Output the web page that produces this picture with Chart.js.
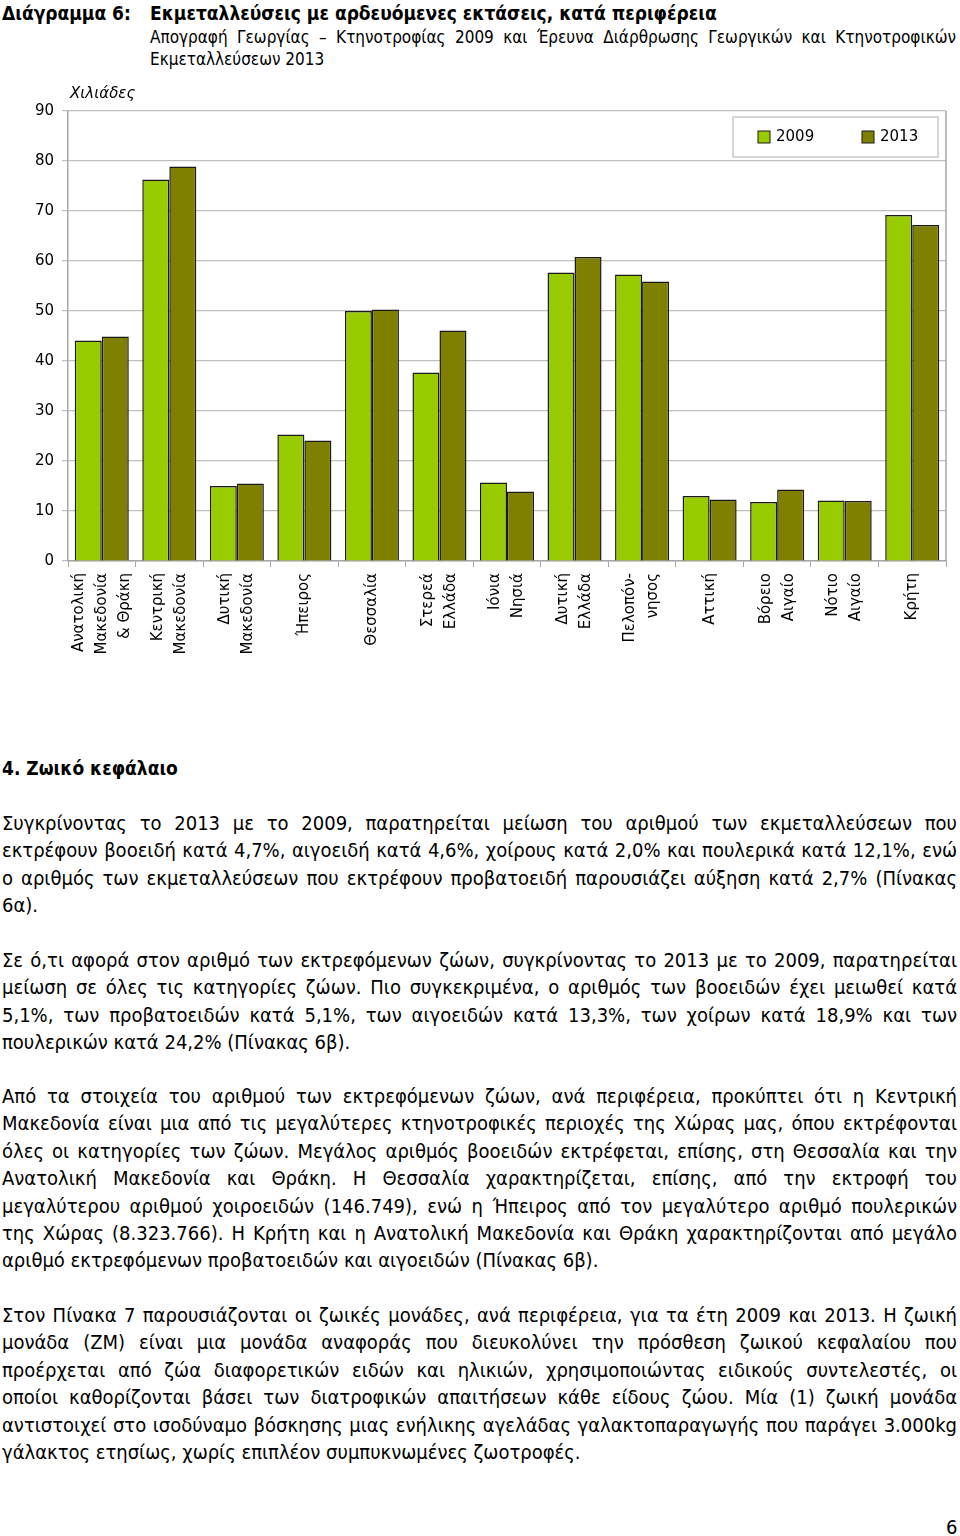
<!DOCTYPE html>
<html lang="el">
<head>
<meta charset="utf-8">
<script src="https://cdn.jsdelivr.net/npm/chart.js@4"></script>
<style>
  html, body { margin: 0; padding: 0; background: #fff; }
  body { width: 960px; height: 1536px; position: relative; overflow: hidden;
         font-family: 'Liberation Sans Narrow', 'DejaVu Sans Condensed', sans-serif; color: #000; }
  .abs { position: absolute; }
  .ln { display: block; white-space: nowrap; text-align: justify; text-align-last: justify; }
  .ln.last { text-align-last: left; }
  #head1 { left: 2px; top: 0; font-size: 19px; font-weight: bold; line-height: 26px; }
  #head2 { left: 150px; top: 0; font-size: 19px; font-weight: bold; line-height: 26px; }
  #sub { left: 150px; top: 26px; width: 806px; font-size: 17px; line-height: 22px; }
  #sec { left: 2px; top: 755px; font-size: 19px; font-weight: bold; line-height: 27.4px; }
  .par { left: 2px; width: 955px; font-size: 20px; line-height: 27.4px; }
  #pg { left: 946px; top: 1514px; font-size: 20px; line-height: 26px; }
  #chartBox { position: absolute; left: 0; top: 70px; width: 960px; height: 630px; }
</style>
</head>
<body>
<div class="abs" id="head1">Διάγραμμα 6:</div>
<div class="abs" id="head2">Εκμεταλλεύσεις με αρδευόμενες εκτάσεις, κατά περιφέρεια</div>
<div class="abs" id="sub">
  <span class="ln">Απογραφή Γεωργίας – Κτηνοτροφίας 2009 και Έρευνα Διάρθρωσης Γεωργικών και Κτηνοτροφικών</span>
  <span class="ln last">Εκμεταλλεύσεων 2013</span>
</div>

<div id="chartBox"><canvas id="irrigated"></canvas></div>

<div class="abs" id="sec">4. Ζωικό κεφάλαιο</div>

<div class="abs par" style="top:810px">
  <span class="ln">Συγκρίνοντας το 2013 με το 2009, παρατηρείται μείωση του αριθμού των εκμεταλλεύσεων που</span>
  <span class="ln">εκτρέφουν βοοειδή κατά 4,7%, αιγοειδή κατά 4,6%, χοίρους κατά 2,0% και πουλερικά κατά 12,1%, ενώ</span>
  <span class="ln">ο αριθμός των εκμεταλλεύσεων που εκτρέφουν προβατοειδή παρουσιάζει αύξηση κατά 2,7% (Πίνακας</span>
  <span class="ln last">6α).</span>
</div>

<div class="abs par" style="top:947px">
  <span class="ln">Σε ό,τι αφορά στον αριθμό των εκτρεφόμενων ζώων, συγκρίνοντας το 2013 με το 2009, παρατηρείται</span>
  <span class="ln">μείωση σε όλες τις κατηγορίες ζώων. Πιο συγκεκριμένα, ο αριθμός των βοοειδών έχει μειωθεί κατά</span>
  <span class="ln">5,1%, των προβατοειδών κατά 5,1%, των αιγοειδών κατά 13,3%, των χοίρων κατά 18,9% και των</span>
  <span class="ln last">πουλερικών κατά 24,2% (Πίνακας 6β).</span>
</div>

<div class="abs par" style="top:1083px">
  <span class="ln">Από τα στοιχεία του αριθμού των εκτρεφόμενων ζώων, ανά περιφέρεια, προκύπτει ότι η Κεντρική</span>
  <span class="ln">Μακεδονία είναι μια από τις μεγαλύτερες κτηνοτροφικές περιοχές της Χώρας μας, όπου εκτρέφονται</span>
  <span class="ln">όλες οι κατηγορίες των ζώων. Μεγάλος αριθμός βοοειδών εκτρέφεται, επίσης, στη Θεσσαλία και την</span>
  <span class="ln">Ανατολική Μακεδονία και Θράκη. Η Θεσσαλία χαρακτηρίζεται, επίσης, από την εκτροφή του</span>
  <span class="ln">μεγαλύτερου αριθμού χοιροειδών (146.749), ενώ η Ήπειρος από τον μεγαλύτερο αριθμό πουλερικών</span>
  <span class="ln">της Χώρας (8.323.766). Η Κρήτη και η Ανατολική Μακεδονία και Θράκη χαρακτηρίζονται από μεγάλο</span>
  <span class="ln last">αριθμό εκτρεφόμενων προβατοειδών και αιγοειδών (Πίνακας 6β).</span>
</div>

<div class="abs par" style="top:1302px">
  <span class="ln">Στον Πίνακα 7 παρουσιάζονται οι ζωικές μονάδες, ανά περιφέρεια, για τα έτη 2009 και 2013. Η ζωική</span>
  <span class="ln">μονάδα (ΖΜ) είναι μια μονάδα αναφοράς που διευκολύνει την πρόσθεση ζωικού κεφαλαίου που</span>
  <span class="ln">προέρχεται από ζώα διαφορετικών ειδών και ηλικιών, χρησιμοποιώντας ειδικούς συντελεστές, οι</span>
  <span class="ln">οποίοι καθορίζονται βάσει των διατροφικών απαιτήσεων κάθε είδους ζώου. Μία (1) ζωική μονάδα</span>
  <span class="ln">αντιστοιχεί στο ισοδύναμο βόσκησης μιας ενήλικης αγελάδας γαλακτοπαραγωγής που παράγει 3.000kg</span>
  <span class="ln last">γάλακτος ετησίως, χωρίς επιπλέον συμπυκνωμένες ζωοτροφές.</span>
</div>

<div class="abs" id="pg">6</div>

<script>
// regions (category labels, one entry per line of the rotated label)
var regions = [
    ['Ανατολική', 'Μακεδονία', '& Θράκη'],
    ['Κεντρική', 'Μακεδονία'],
    ['Δυτική', 'Μακεδονία'],
    ['Ήπειρος'],
    ['Θεσσαλία'],
    ['Στερεά', 'Ελλάδα'],
    ['Ιόνια', 'Νησιά'],
    ['Δυτική', 'Ελλάδα'],
    ['Πελοπόν-', 'νησος'],
    ['Αττική'],
    ['Βόρειο', 'Αιγαίο'],
    ['Νότιο', 'Αιγαίο'],
    ['Κρήτη']
];
// thousands of holdings with irrigated land
var holdings2009 = [44.1, 76.3, 15.0, 25.3, 50.0, 37.7, 15.7, 57.7, 57.3, 13.0, 11.8, 12.1, 69.2];
var holdings2013 = [44.9, 78.9, 15.5, 24.1, 50.3, 46.1, 13.9, 60.8, 55.9, 12.3, 14.3, 12.0, 67.2];
var seriesNames = ['2009', '2013'];
var yMin = 0, yMax = 90, yStep = 10;
var unitLabel = 'Χιλιάδες';

var FONT = "'DejaVu Sans', Verdana, sans-serif";
var colSpacing = 23;   // distance between the lines of a rotated label

// pad each label so its lines sit centred on the category (half-spacing slots)
function padLabel(lines) {
    var out = [];
    for (var i = 0; i < 3 - lines.length; i++) out.push('');
    lines.forEach(function (l, i) {
        if (i > 0) out.push('');
        out.push(l);
    });
    return out;
}

var extras = {
    id: 'extras',
    afterDraw: function (chart) {
        var c = chart.ctx, a = chart.chartArea;
        c.save();
        // right frame line
        c.strokeStyle = '#a6a6a6';
        c.lineWidth = 1.5;
        c.beginPath();
        c.moveTo(a.right, a.top);
        c.lineTo(a.right, a.bottom);
        c.stroke();

        // unit label
        c.fillStyle = '#000';
        c.font = 'italic 15px ' + FONT;
        c.textBaseline = 'middle';
        c.textAlign = 'left';
        c.fillText(unitLabel, a.left + 2, a.top - 17);

        // legend box inside plot area
        var bx = a.right - 213, by = a.top + 6, bw = 205, bh = 40;
        c.fillStyle = '#fff';
        c.fillRect(bx, by, bw, bh);
        c.strokeStyle = '#c8c8c8';
        c.lineWidth = 1.5;
        c.strokeRect(bx, by, bw, bh);
        var offs = [25, 129];
        c.font = '15px ' + FONT;
        chart.data.datasets.forEach(function (ds, i) {
            var sx = bx + offs[i], sy = by + 14;
            c.fillStyle = ds.backgroundColor;
            c.fillRect(sx, sy, 12, 12);
            c.strokeStyle = '#1a1a1a';
            c.lineWidth = 1;
            c.strokeRect(sx, sy, 12, 12);
            c.fillStyle = '#000';
            c.fillText(ds.label, sx + 18, sy + 6);
        });
        c.restore();
    }
};

var ctx = document.getElementById('irrigated').getContext('2d');
var data = {
    labels: regions.map(padLabel),
    datasets: [{
        label: seriesNames[0],
        data: holdings2009,
        backgroundColor: '#99cc00',
        borderColor: '#1a1a1a',
        borderWidth: 1.5
    }, {
        label: seriesNames[1],
        data: holdings2013,
        backgroundColor: '#808000',
        borderColor: '#1a1a1a',
        borderWidth: 1.5
    }]
};

var options = {
    responsive: true,
    maintainAspectRatio: false,
    animation: false,
    layout: { padding: { top: 41, right: 14, left: 0, bottom: 0 } },
    datasets: { bar: { categoryPercentage: 0.8, barPercentage: 1 } },
    plugins: { legend: { display: false }, tooltip: { enabled: false } },
    scales: {
        x: {
            afterFit: function (s) { s.height = 139; },
            grid: { drawOnChartArea: false, drawTicks: true, tickLength: 6, color: '#a6a6a6', lineWidth: 1 },
            border: { color: '#a6a6a6', width: 1.5 },
            ticks: {
                autoSkip: false,
                minRotation: 90,
                maxRotation: 90,
                padding: 6,
                labelOffset: -colSpacing,
                color: '#000',
                font: { family: FONT, size: 15, lineHeight: (colSpacing / 2) / 15 }
            }
        },
        y: {
            min: yMin,
            max: yMax,
            afterFit: function (s) { s.width = 68; },
            grid: { color: '#bfbfbf', lineWidth: 1.2, tickLength: 6 },
            border: { color: '#a6a6a6', width: 1.5 },
            ticks: {
                stepSize: yStep,
                padding: 8,
                color: '#000',
                font: { family: FONT, size: 15 }
            }
        }
    }
};

var irrigatedChart = new Chart(ctx, {
    type: 'bar',
    data: data,
    options: options,
    plugins: [extras]
});
</script>
</body>
</html>
